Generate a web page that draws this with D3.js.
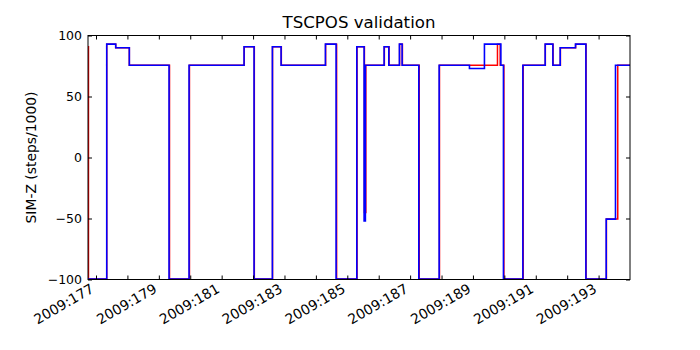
<!DOCTYPE html>
<html>
<head>
<meta charset="utf-8">
<script src="https://cdn.jsdelivr.net/npm/d3@7"></script>
<style>
  body { margin: 0; background: #fff; }
  text { font-family: "DejaVu Sans", sans-serif; fill: #000; }
</style>
</head>
<body>
<script>
// SIM-Z positions (steps/1000) vs day of year 2009
var blueTimes = [176.745, 177.341, 177.627, 178.061, 179.325, 179.962, 181.713, 182.032, 182.615, 182.892,
  184.303, 184.643, 185.303, 185.535, 185.576, 186.172, 186.322, 186.659, 186.745, 187.277,
  187.924, 188.889, 189.366, 189.889, 189.971, 190.589, 191.299, 191.545, 191.777, 192.264,
  192.596, 193.242, 193.538, 194.0];
var blueValues = [-99.6, 92.9, 90.0, 75.6, -99.6, 75.6, 90.8, -99.6, 90.8, 75.6,
  92.9, -99.6, 90.8, -52.0, 75.6, 90.8, 75.6, 92.9, 75.6, -99.6,
  75.6, 73.0, 92.9, 75.6, -99.6, 75.6, 92.9, 75.6, 90.0, 92.9,
  -99.6, -50.5, 75.6, 75.6];

var redTimes = [176.745, 176.76, 177.341, 177.627, 178.061, 179.34, 179.975, 181.72, 182.04, 182.62,
  182.9, 184.31, 184.66, 185.31, 185.545, 185.59, 186.18, 186.33, 186.665, 186.755,
  187.29, 187.935, 189.781, 189.866, 189.985, 190.6, 191.305, 191.55, 191.785, 192.27,
  192.6, 193.25, 193.61, 194.0];
var redValues = [90.8, -99.6, 92.9, 90.0, 75.6, -99.6, 75.6, 90.8, -99.6, 90.8,
  75.6, 92.9, -99.6, 90.8, -45.0, 75.6, 90.8, 75.6, 92.9, 75.6,
  -99.6, 75.6, 92.9, 75.6, -99.6, 75.6, 92.9, 75.6, 90.0, 92.9,
  -99.6, -50.5, 75.6, 75.6];

var xTicks = d3.range(177, 194);
var yTicks = [-100, -50, 0, 50, 100];

(function() {
var W = 700, H = 350;
var x0 = 88, x1 = 630, y0 = 35.5, y1 = 279.5;

var svg = d3.select("body").append("svg").attr("width", W).attr("height", H);

var x = d3.scaleLinear().domain([176.745, 194.0]).range([x0, x1]);
var y = d3.scaleLinear().domain([-100, 100]).range([y1, y0]);

svg.append("clipPath").attr("id", "clip")
  .append("rect").attr("x", x0).attr("y", y0).attr("width", x1 - x0).attr("height", y1 - y0);

var line = d3.line().x(d => x(d[0])).y(d => y(d[1])).curve(d3.curveStepAfter);

var red = redTimes.map((t, i) => [t, redValues[i]]);
var blue = blueTimes.map((t, i) => [t, blueValues[i]]);

svg.append("path").datum(red).attr("clip-path", "url(#clip)")
  .attr("d", line).attr("fill", "none").attr("stroke", "#ff0000").attr("stroke-width", 1.5);
svg.append("path").datum(blue).attr("clip-path", "url(#clip)")
  .attr("d", line).attr("fill", "none").attr("stroke", "#0000ff").attr("stroke-width", 1.6);

// ticks, inside on all four sides
var tickLen = 4;
var xb = d3.axisBottom(x).tickValues(xTicks).tickSizeInner(-tickLen).tickSizeOuter(0).tickFormat("");
var xt = d3.axisTop(x).tickValues(xTicks).tickSizeInner(-tickLen).tickSizeOuter(0).tickFormat("");
var yl = d3.axisLeft(y).tickValues(yTicks).tickSizeInner(-tickLen).tickSizeOuter(0).tickFormat("");
var yr = d3.axisRight(y).tickValues(yTicks).tickSizeInner(-tickLen).tickSizeOuter(0).tickFormat("");

svg.append("g").attr("transform", "translate(0," + y1 + ")").call(xb);
svg.append("g").attr("transform", "translate(0," + y0 + ")").call(xt);
svg.append("g").attr("transform", "translate(" + x0 + ",0)").call(yl);
svg.append("g").attr("transform", "translate(" + x1 + ",0)").call(yr);
svg.selectAll(".domain").remove();
svg.selectAll(".tick line").attr("stroke", "#000");

svg.append("rect").attr("x", x0).attr("y", y0).attr("width", x1 - x0).attr("height", y1 - y0)
  .attr("fill", "none").attr("stroke", "#000").attr("stroke-width", 1);

// y tick labels
svg.selectAll(".ylab").data(yTicks).enter().append("text")
  .attr("x", x0 - 6).attr("y", d => y(d)).attr("dy", "0.36em")
  .attr("text-anchor", "end").style("font-size", "12.5px")
  .text(d => d < 0 ? "\u2212" + Math.abs(d) : d);

// x tick labels, rotated
svg.selectAll(".xlab").data(xTicks.filter(d => d % 2 == 1)).enter().append("text")
  .attr("text-anchor", "end").style("font-size", "13.9px")
  .attr("transform", d => "translate(" + (x(d) - 1) + "," + (y1 + 12) + ") rotate(-30)")
  .text(d => "2009:" + d);

svg.append("text").attr("x", (x0 + x1) / 2).attr("y", 28)
  .attr("text-anchor", "middle").style("font-size", "16.6px").text("TSCPOS validation");

svg.append("text").attr("transform", "translate(36," + (y0 + y1) / 2 + ") rotate(-90)")
  .attr("text-anchor", "middle").style("font-size", "13.9px").text("SIM-Z (steps/1000)");
})();
</script>
</body>
</html>
